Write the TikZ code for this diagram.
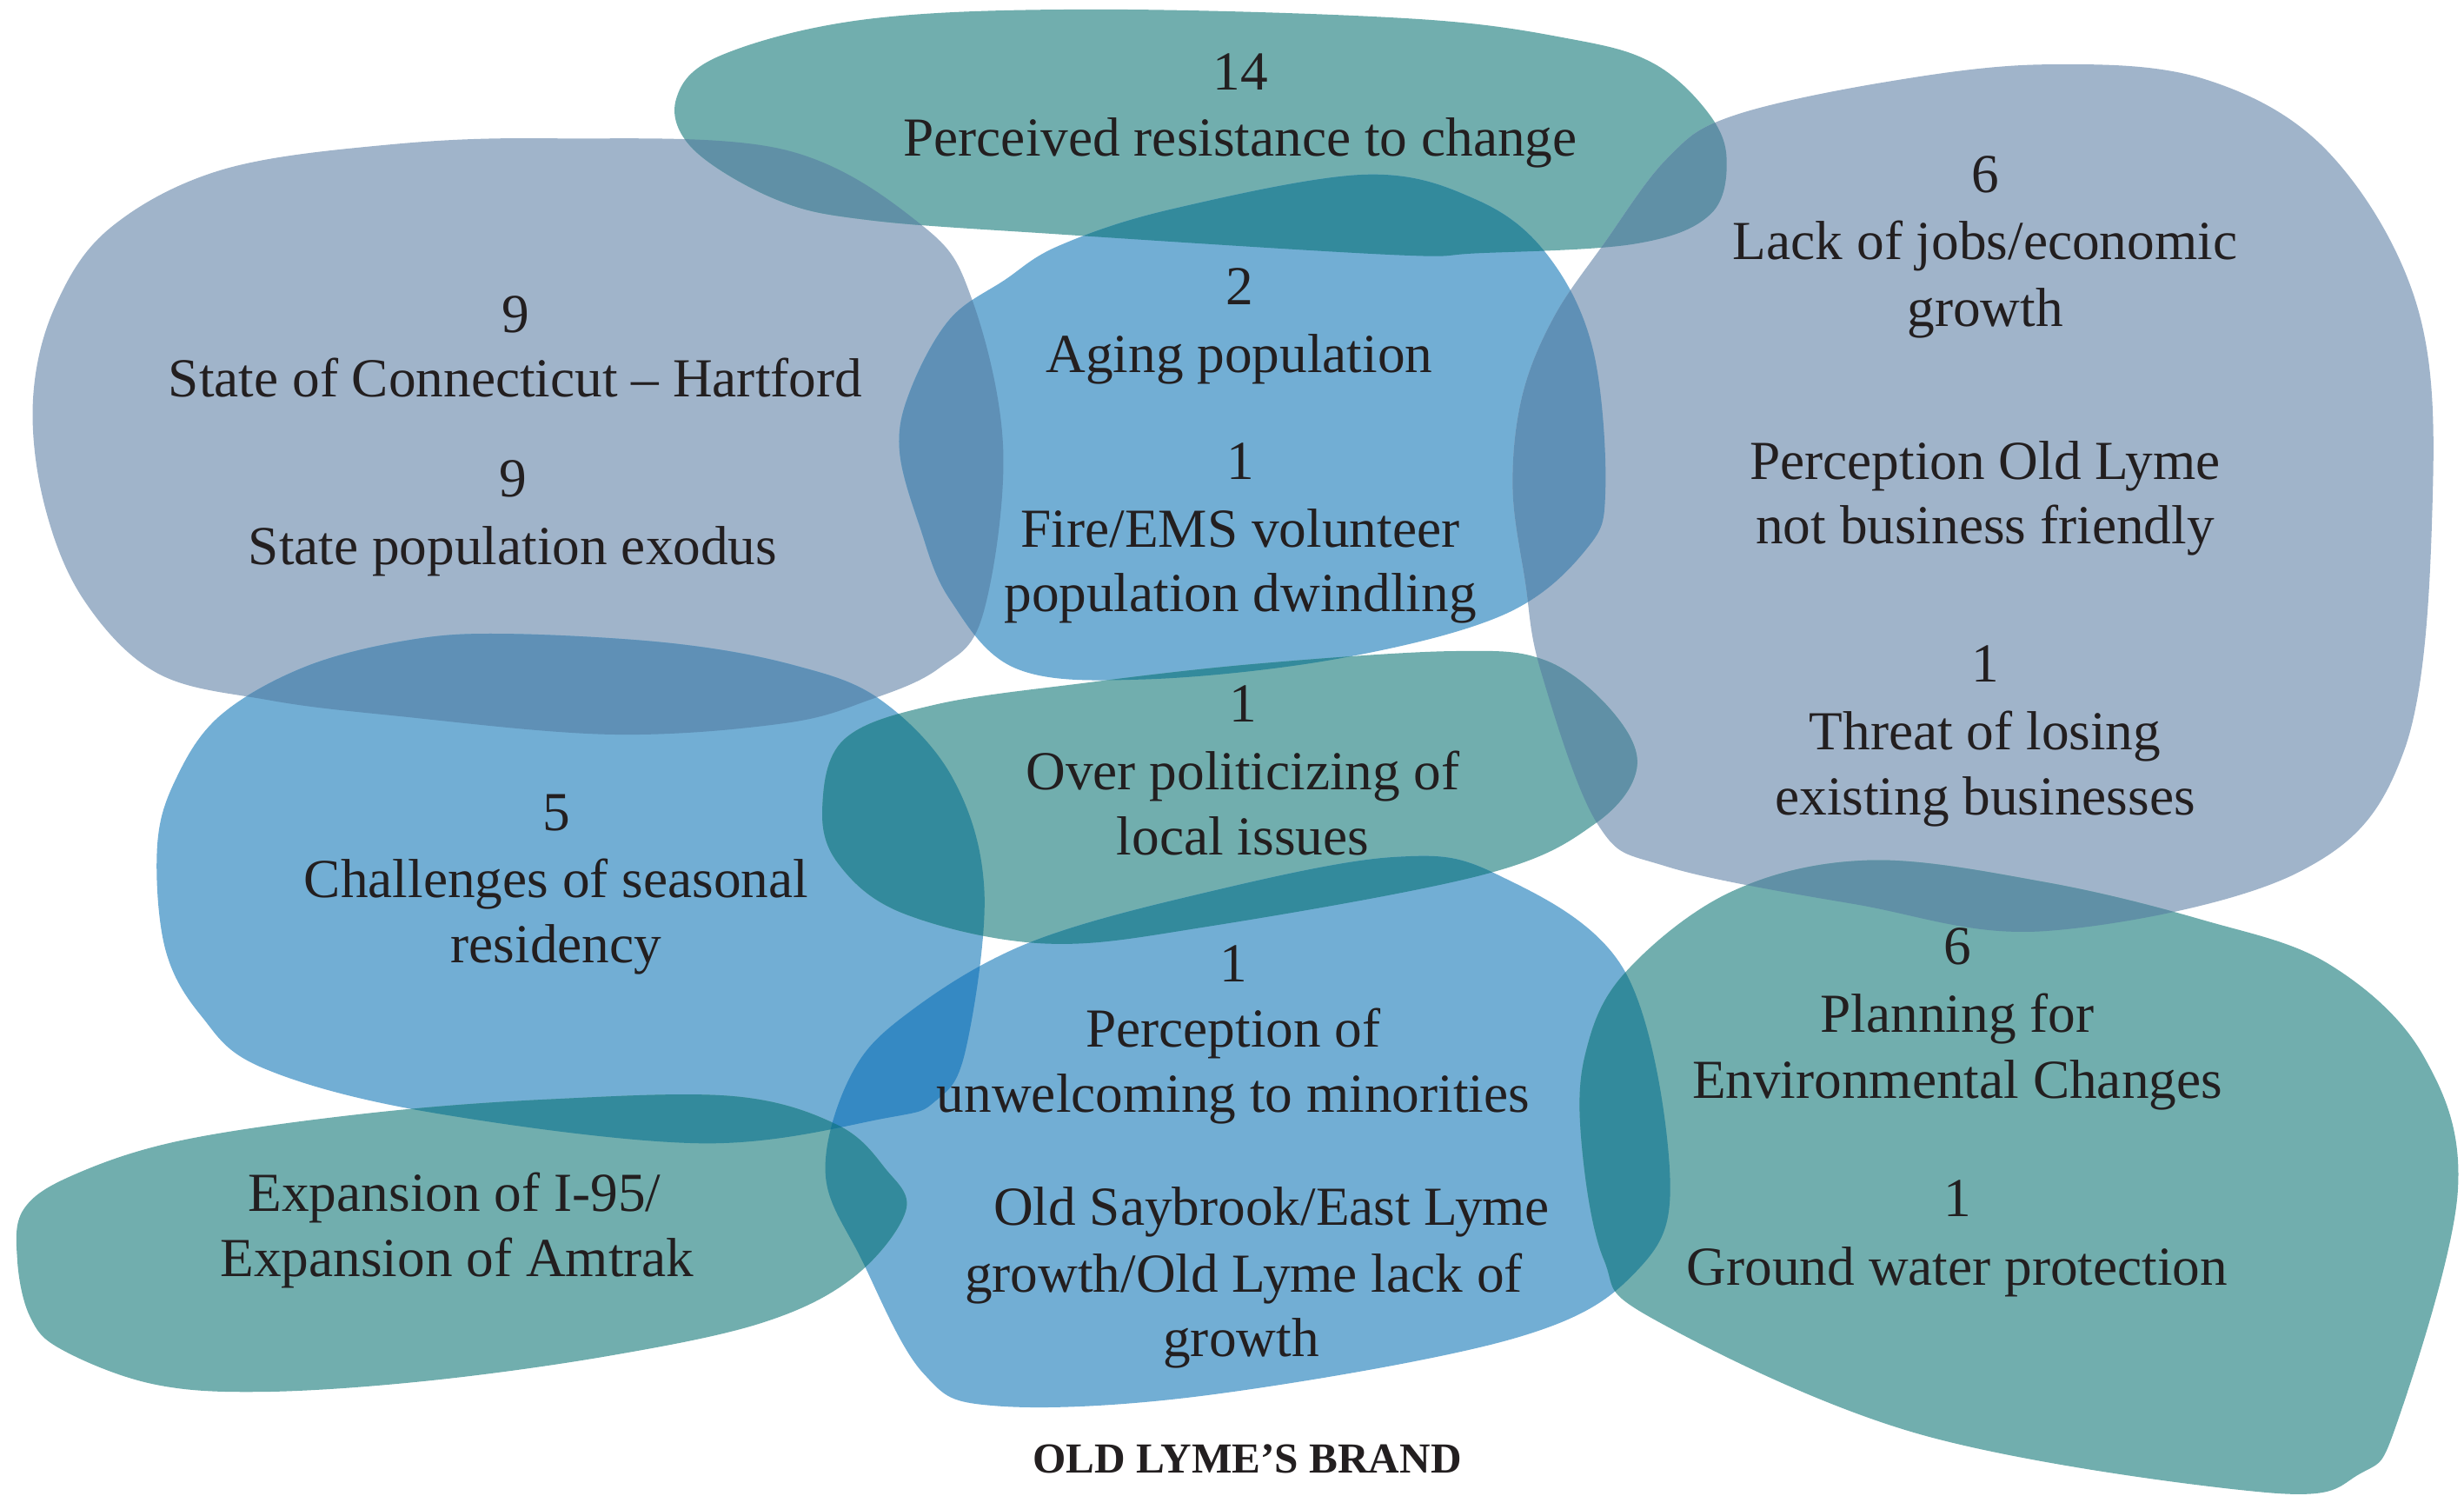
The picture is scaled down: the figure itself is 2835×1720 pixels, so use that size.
\documentclass[tikz,border=0pt]{standalone}
\usepackage{fontspec}
\setmainfont{Liberation Serif}
\definecolor{cgray}{HTML}{A0B4CA}
\definecolor{cblue}{HTML}{72AED4}
\definecolor{cteal}{HTML}{71AEAE}
\definecolor{cgt}{HTML}{6090A6}
\definecolor{cgb}{HTML}{5F90B6}
\definecolor{cbt}{HTML}{338A9C}
\definecolor{cbb}{HTML}{3589C3}
\definecolor{cbbt}{HTML}{1A7A96}
\definecolor{txt}{HTML}{231F20}
\tikzset{
  lbl/.style={font=\fontsize{18}{22}\selectfont, text=txt, anchor=base, inner sep=0pt},
  ttl/.style={font=\fontsize{14}{16}\selectfont\bfseries, text=txt, anchor=base, inner sep=0pt}
}
\def\pA{plot[smooth cycle,tension=0.6] coordinates{(21,254) (35,195) (70,145) (141,108) (247,92) (353,88) (498,95) (586,143) (618,190) (638,286) (625,391) (597,425) (553,445) (498,460) (388,467) (250,455) (170,445) (100,428) (53,381) (28,320)}}
\def\pB{plot[smooth cycle,tension=0.6] coordinates{(430,63) (459,35) (553,12) (700,6) (900,12) (1000,25) (1051,40) (1085,70) (1098,100) (1088,136) (1040,155) (940,161) (885,162) (674,149) (553,140) (494,127) (441,95)}}
\def\pC{plot[smooth cycle,tension=0.6] coordinates{(572,286) (579,248) (604,203) (639,178) (674,156) (745,133) (868,111) (939,127) (984,162) (1013,222) (1021,311) (1009,349) (956,391) (850,419) (727,432) (646,425) (604,381) (585,335)}}
\def\pD{plot[smooth cycle,tension=0.6] coordinates{(1101,74) (1060,101) (1020,155) (988,202) (968,252) (962,310) (970,370) (980,427) (1016,524) (1060,551) (1180,575) (1301,592) (1461,555) (1529,477) (1547,318) (1537,194) (1481,97) (1401,50) (1301,41) (1200,52)}}
\def\pE{plot[smooth cycle,tension=0.6] coordinates{(100,538) (112,495) (140,455) (194,424) (260,407) (322,403) (427,409) (505,423) (560,445) (606,495) (626,567) (614,668) (595,700) (563,711) (446,727) (272,707) (167,679) (128,646) (105,603)}}
\def\pF{plot[smooth cycle,tension=0.6] coordinates{(523,513) (537,470) (595,448) (692,434) (800,422) (925,414) (983,420) (1025,452) (1041,488) (1014,524) (944,556) (769,589) (665,600) (575,581) (533,549)}}
\def\pG{plot[smooth cycle,tension=0.6] coordinates{(886,545) (952,556) (1033,617) (1062,747) (1041,808) (963,851) (769,887) (634,894) (587,873) (548,801) (525,747) (540,686) (575,646) (653,600) (769,567)}}
\def\pH{plot[smooth cycle,tension=0.6] coordinates{(466,697) (349,699) (233,708) (116,725) (47,747) (15,769) (11,801) (19,837) (39,858) (97,880) (167,885) (272,878) (388,862) (485,841) (543,812) (576,770) (563,743) (532,715)}}
\def\pI{plot[smooth cycle,tension=0.6] coordinates{(1189,547) (1101,567) (1033,619) (1008,671) (1006,729) (1020,801) (1052,839) (1221,912) (1441,949) (1501,937) (1525,903) (1563,758) (1541,671) (1481,613) (1401,585) (1301,561)}}
\newcommand{\ovl}[3]{\begin{scope}\clip #1; \fill[#3] #2; \end{scope}}
\begin{document}
\begin{tikzpicture}[x=0.01cm,y=-0.01cm]
\path[use as bounding box, fill=white] (0,0) rectangle (2835,1720);
\begin{scope}[x=0.01808cm,y=-0.01808cm]
  \fill[cgray] \pA;
  \fill[cteal] \pB;
  \fill[cblue] \pC;
  \fill[cgray] \pD;
  \fill[cblue] \pE;
  \fill[cteal] \pF;
  \fill[cblue] \pG;
  \fill[cteal] \pH;
  \fill[cteal] \pI;
  % gray/teal
  \ovl{\pA}{\pB}{cgt}
  \ovl{\pD}{\pB}{cgt}
  \ovl{\pD}{\pF}{cgt}
  \ovl{\pD}{\pI}{cgt}
  % gray/blue
  \ovl{\pA}{\pC}{cgb}
  \ovl{\pA}{\pE}{cgb}
  \ovl{\pD}{\pC}{cgb}
  % blue/teal
  \ovl{\pB}{\pC}{cbt}
  \ovl{\pC}{\pF}{cbt}
  \ovl{\pE}{\pF}{cbt}
  \ovl{\pE}{\pH}{cbt}
  \ovl{\pF}{\pG}{cbt}
  \ovl{\pG}{\pH}{cbt}
  \ovl{\pG}{\pI}{cbt}
  % blue/blue
  \ovl{\pE}{\pG}{cbb}
  \begin{scope}\clip \pE; \clip \pG; \fill[cbbt] \pH; \end{scope}
\end{scope}
% texts
\node[lbl] (n1a) at (1427,103) {14};
\node[lbl] (n1b) at (1427,179) {Perceived resistance to change};
\node[lbl] (n2a) at (593,382) {9};
\node[lbl] (n2b) at (593,456) {State of Connecticut – Hartford};
\node[lbl] (n3a) at (590,571) {9};
\node[lbl] (n3b) at (590,649) {State population exodus};
\node[lbl] (n4a) at (1426,350) {2};
\node[lbl] (n4b) at (1426,428) {Aging population};
\node[lbl] (n5a) at (1427,551) {1};
\node[lbl] (n5b) at (1427,629) {Fire/EMS volunteer};
\node[lbl] (n5c) at (1427,703) {population dwindling};
\node[lbl] (n6a) at (2284,221) {6};
\node[lbl] (n6b) at (2284,298) {Lack of jobs/economic};
\node[lbl] (n6c) at (2284,375) {growth};
\node[lbl] (n7a) at (2284,551) {Perception Old Lyme};
\node[lbl] (n7b) at (2284,625) {not business friendly};
\node[lbl] (n8a) at (2284,784) {1};
\node[lbl] (n8b) at (2284,862) {Threat of losing};
\node[lbl] (n8c) at (2284,937) {existing businesses};
\node[lbl] (n9a) at (640,955) {5};
\node[lbl] (n9b) at (640,1032) {Challenges of seasonal};
\node[lbl] (n9c) at (640,1107) {residency};
\node[lbl] (n10a) at (1430,830) {1};
\node[lbl] (n10b) at (1430,908) {Over politicizing of};
\node[lbl] (n10c) at (1430,983) {local issues};
\node[lbl] (n11a) at (1419,1129) {1};
\node[lbl] (n11b) at (1419,1204) {Perception of};
\node[lbl] (n11c) at (1419,1279) {unwelcoming to minorities};
\node[lbl] (n12a) at (1463,1409) {Old Saybrook/East Lyme};
\node[lbl] (n12b) at (1431,1486) {growth/Old Lyme lack of};
\node[lbl] (n12c) at (1428,1560) {growth};
\node[lbl] (n13a) at (523,1393) {Expansion of I-95/};
\node[lbl] (n13b) at (526,1468) {Expansion of Amtrak};
\node[lbl] (n14a) at (2252,1109) {6};
\node[lbl] (n14b) at (2252,1187) {Planning for};
\node[lbl] (n14c) at (2252,1263) {Environmental Changes};
\node[lbl] (n15a) at (2252,1399) {1};
\node[lbl] (n15b) at (2252,1478) {Ground water protection};
\node[ttl] (title) at (1435,1694) {OLD LYME’S BRAND};
\end{tikzpicture}
\end{document}
